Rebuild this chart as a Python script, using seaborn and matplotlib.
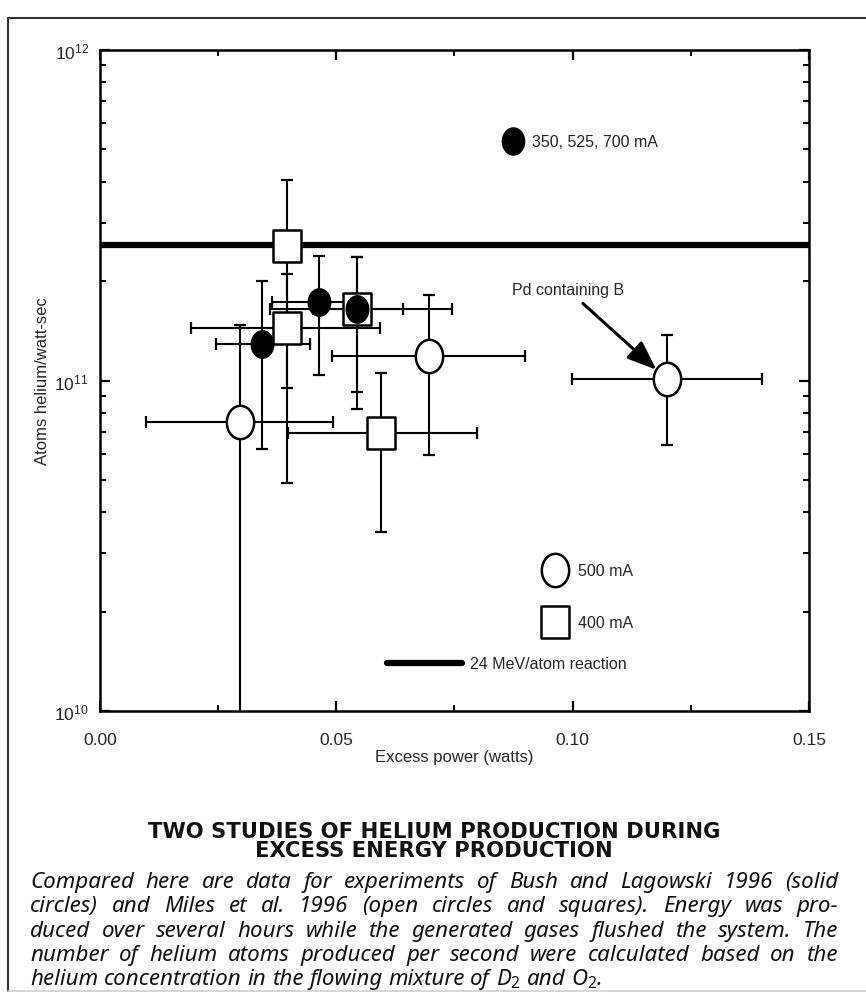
import numpy as np
import pandas as pd
import matplotlib
matplotlib.use("Agg")
import matplotlib.pyplot as plt
import seaborn as sns
from matplotlib.path import Path
from matplotlib.lines import Line2D
from matplotlib.ticker import MultipleLocator, LogLocator, NullFormatter

# Bush & Lagowski 1996 (solid circles, 350/525/700 mA)
bush_x = [0.0342, 0.0463, 0.0544]
bush_y = [1.29e11, 1.73e11, 1.64e11]
bush_x_lo = [0.0245, 0.0363, 0.0450]
bush_x_hi = [0.0444, 0.0550, 0.0642]
bush_y_lo = [6.2e10, 1.04e11, 9.2e10]
bush_y_hi = [2.0e11, 2.38e11, 2.37e11]

# Miles et al. 1996, open circles (500 mA)
circ_x = [0.0296, 0.0696, 0.1199]
circ_y = [7.5e10, 1.19e11, 1.01e11]
circ_x_lo = [0.0097, 0.0491, 0.0998]
circ_x_hi = [0.0493, 0.0899, 0.1400]
circ_y_lo = [1.0e9, 5.96e10, 6.4e10]
circ_y_hi = [1.47e11, 1.81e11, 1.37e11]

# Miles et al. 1996, open squares (400 mA)
sq_x = [0.0395, 0.0395, 0.0544, 0.0594]
sq_y = [2.56e11, 1.44e11, 1.64e11, 6.93e10]
sq_x_lo = [0.0395, 0.0192, 0.0360, 0.0398]
sq_x_hi = [0.0395, 0.0592, 0.0744, 0.0797]
sq_y_lo = [9.5e10, 4.9e10, 8.2e10, 3.49e10]
sq_y_hi = [4.05e11, 2.1e11, 2.37e11, 1.05e11]

reaction_level = 2.57e11  # 24 MeV/atom reaction

TITLE = ["TWO STUDIES OF HELIUM PRODUCTION DURING", "EXCESS ENERGY PRODUCTION"]
BODY = [
    "Compared here are data for experiments of Bush and Lagowski 1996 (solid",
    "circles) and Miles et al. 1996 (open circles and squares). Energy was pro-",
    "duced over several hours while the generated gases flushed the system. The",
    "number of helium atoms produced per second were calculated based on the",
    "helium concentration in the flowing mixture of $D_2$ and $O_2$.",
]

CAPTION_FONT = "Noto Sans"

sns.set_style("ticks")
plt.rcParams.update({
    "font.family": ["Liberation Sans", "DejaVu Sans"],
    "mathtext.fontset": "custom",
    "mathtext.rm": CAPTION_FONT,
    "mathtext.it": CAPTION_FONT + ":italic",
    "axes.linewidth": 1.8,
    "axes.edgecolor": "black",
})

t = np.linspace(0, 2 * np.pi, 80)
ELLIPSE = Path(np.column_stack([0.41 * np.cos(t), 0.5 * np.sin(t)]), closed=True)
RECT = Path([(-0.4375, -0.5), (0.4375, -0.5), (0.4375, 0.5), (-0.4375, 0.5), (-0.4375, -0.5)], closed=True)


def frame(x, y, xlo, xhi, ylo, yhi):
    return pd.DataFrame({"x": x, "y": y, "xlo": xlo, "xhi": xhi, "ylo": ylo, "yhi": yhi})


def draw_errors(ax, df):
    ax.errorbar(df["x"], df["y"],
                xerr=[df["x"] - df["xlo"], df["xhi"] - df["x"]],
                yerr=[df["y"] - df["ylo"], df["yhi"] - df["y"]],
                fmt="none", ecolor="black", elinewidth=1.5, capsize=4.5, capthick=1.6, zorder=2)


fig = plt.figure(figsize=(8.66, 10.03), dpi=100)
ax = fig.add_axes([0.11547, 0.29013, 0.81871, 0.65902])
ax.set_yscale("log")

bush = frame(bush_x, bush_y, bush_x_lo, bush_x_hi, bush_y_lo, bush_y_hi)
circ = frame(circ_x, circ_y, circ_x_lo, circ_x_hi, circ_y_lo, circ_y_hi)
sq = frame(sq_x, sq_y, sq_x_lo, sq_x_hi, sq_y_lo, sq_y_hi)

for df in (sq, circ, bush):
    draw_errors(ax, df)

ax.axhline(reaction_level, color="black", lw=4.5, zorder=2.5)

sns.scatterplot(data=sq, x="x", y="y", marker=RECT, s=23 ** 2, color="white",
                edgecolor="black", linewidth=1.8, zorder=3, ax=ax, legend=False)
sns.scatterplot(data=circ, x="x", y="y", marker=ELLIPSE, s=24 ** 2, color="white",
                edgecolor="black", linewidth=1.8, zorder=3, ax=ax, legend=False)
sns.scatterplot(data=bush, x="x", y="y", marker=ELLIPSE, s=19.5 ** 2, color="black",
                edgecolor="black", linewidth=1.2, zorder=4, ax=ax, legend=False)

ax.set_xlim(0, 0.15)
ax.set_ylim(1e10, 1e12)
ax.xaxis.set_major_locator(MultipleLocator(0.05))
ax.xaxis.set_minor_locator(MultipleLocator(0.025))
ax.xaxis.set_major_formatter(matplotlib.ticker.FormatStrFormatter("%.2f"))
ax.yaxis.set_major_locator(LogLocator(base=10, numticks=5))
ax.yaxis.set_minor_locator(LogLocator(base=10, subs=np.arange(2, 10), numticks=20))
ax.yaxis.set_minor_formatter(NullFormatter())
ax.tick_params(which="both", direction="in", top=True, right=True, color="black", labelsize=12.5)
ax.tick_params(which="major", length=7, width=1.6)
ax.tick_params(which="minor", length=4.5, width=1.4)
ax.tick_params(axis="x", which="major", pad=15)
ax.tick_params(axis="y", which="major", pad=8)
for s in ax.spines.values():
    s.set_visible(True)

ax.set_xlabel("Excess power (watts)", fontsize=12)
ax.set_ylabel("Atoms helium/watt-sec", fontsize=12)
ax.xaxis.set_label_coords(0.5, -0.058)
ax.yaxis.set_label_coords(-0.0705, 0.5)

# in-plot keys
tr = ax.transAxes
ax.plot([0.5825], [0.862], marker=ELLIPSE, ms=19.5, color="black", transform=tr, clip_on=False)
ax.text(0.609, 0.862, "350, 525, 700 mA", transform=tr, fontsize=11.5, va="center")
ax.plot([0.642], [0.213], marker=ELLIPSE, ms=24, mfc="white", mec="black", mew=1.8, transform=tr)
ax.text(0.674, 0.213, "500 mA", transform=tr, fontsize=11.5, va="center")
ax.plot([0.642], [0.1346], marker=RECT, ms=23, mfc="white", mec="black", mew=1.8, transform=tr)
ax.text(0.674, 0.1346, "400 mA", transform=tr, fontsize=11.5, va="center")
ax.add_line(Line2D([0.405, 0.511], [0.0726, 0.0726], color="black", lw=4.5, transform=tr))
ax.text(0.522, 0.0726, "24 MeV/atom reaction", transform=tr, fontsize=11.5, va="center")

ax.annotate("Pd containing B", xy=(circ_x[2], circ_y[2]), xycoords="data",
            xytext=(0.660, 0.637), textcoords="axes fraction", ha="center", va="center",
            fontsize=11.5,
            arrowprops=dict(arrowstyle="-|>,head_length=0.9,head_width=0.35", color="black",
                            lw=2.2, shrinkA=3, shrinkB=10, mutation_scale=20))

# outer frame
fig.add_artist(Line2D([0.0092, 1.0], [0.981, 0.981], color="#333333", lw=1.5))
fig.add_artist(Line2D([0.0092, 0.0092], [0.011, 0.981], color="#333333", lw=1.5))
fig.add_artist(Line2D([0.0092, 1.0], [0.011, 0.011], color="#cfcfcf", lw=1.2))

# caption
for txt, yy in zip(TITLE, [832, 851]):
    fig.text(0.501, 1 - yy / 1003, txt, ha="center", va="center", fontsize=15.2,
             family="DejaVu Sans", weight="bold", color="#111111")

renderer = fig.canvas.get_renderer()
x0, x1 = 30 / 866, 838 / 866
base_y = [888, 912, 937, 961, 985]
body_kw = dict(fontsize=16.1, family=CAPTION_FONT, style="italic", va="baseline", color="#111111")
space_w = None
for i, (line, yy) in enumerate(zip(BODY, base_y)):
    y = 1 - yy / 1003
    words = line.split()
    arts = [fig.text(0, y, w, **body_kw) for w in words]
    widths = [a.get_window_extent(renderer).width / fig.bbox.width for a in arts]
    if space_w is None:
        sp = fig.text(0, 0, "a a", **body_kw)
        sp2 = fig.text(0, 0, "aa", **body_kw)
        space_w = (sp.get_window_extent(renderer).width - sp2.get_window_extent(renderer).width) / fig.bbox.width
        sp.remove()
        sp2.remove()
    if i < len(BODY) - 1:
        gap = (x1 - x0 - sum(widths)) / (len(words) - 1)
    else:
        gap = space_w
    x = x0
    for a, w in zip(arts, widths):
        a.set_x(x)
        x += w + gap

fig.savefig("out.png", dpi=100)
